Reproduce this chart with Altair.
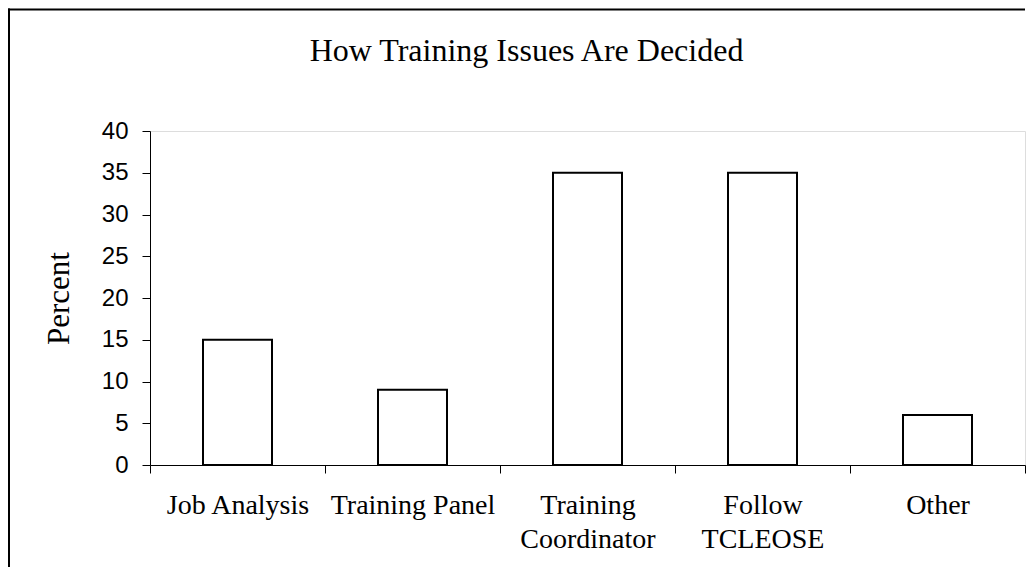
import altair as alt
import pandas as pd

categories = ["Job Analysis", "Training Panel", "Training Coordinator", "Follow TCLEOSE", "Other"]
percents = [15, 9, 35, 35, 6]
y_ticks = [0, 5, 10, 15, 20, 25, 30, 35, 40]
title_text = "How Training Issues Are Decided"
y_title = "Percent"

df = pd.DataFrame({"category": categories, "percent": percents})

SERIF = "Liberation Serif"
SANS = "Liberation Sans"

bars = alt.Chart(df).mark_bar(
    size=69, fill="white", stroke="black", strokeWidth=2
).encode(
    x=alt.X(
        "category:N",
        sort=categories,
        scale=alt.Scale(paddingInner=0, paddingOuter=0),
        axis=alt.Axis(
            title=None,
            labelAngle=0,
            labelFont=SERIF,
            labelFontSize=28,
            labelColor="black",
            labelPadding=18,
            labelLineHeight=34,
            labelExpr="datum.label == 'Training Coordinator' || datum.label == 'Follow TCLEOSE' ? split(datum.label, ' ') : datum.label",
            tickBand="extent",
            tickSize=8,
            tickColor="black",
            domainColor="black",
            grid=False,
        ),
    ),
    y=alt.Y(
        "percent:Q",
        scale=alt.Scale(domain=[0, 40], nice=False),
        axis=alt.Axis(
            title=y_title,
            titleFont=SERIF,
            titleFontSize=31,
            titleFontWeight="normal",
            titleColor="black",
            titleAngle=-90,
            titleX=-82,
            titleY=167,
            titleAlign="center",
            titleBaseline="alphabetic",
            values=y_ticks,
            labelFont=SANS,
            labelFontSize=24,
            labelColor="black",
            labelPadding=14,
            tickSize=8,
            tickColor="black",
            domainColor="black",
            grid=False,
        ),
    ),
)

frame_src = pd.DataFrame({"k": [0]})
frame_top = alt.Chart(frame_src).mark_rule(
    stroke="black", strokeWidth=2, clip=False
).encode(
    x=alt.value(-142),
    x2=alt.value(875),
    y=alt.value(-121.5),
)
frame_left = alt.Chart(frame_src).mark_rule(
    stroke="black", strokeWidth=2, clip=False
).encode(
    x=alt.value(-141),
    y=alt.value(-122.5),
    y2=alt.value(436),
)

title = alt.Chart(pd.DataFrame({"t": [title_text]})).mark_text(
    font=SERIF, fontSize=32, color="black", align="center", baseline="alphabetic"
).encode(
    text="t:N",
    x=alt.value(376.5),
    y=alt.value(-70),
)

chart = alt.layer(frame_top, frame_left, title, bars).properties(
    width=875,
    height=334,
    autosize=alt.AutoSizeParams(type="none"),
    padding={"left": 142, "top": 123, "right": 1, "bottom": 103},
).configure_view(stroke=None).configure(background="white")

chart.save("out.html", embed_options={"renderer": "svg", "actions": False})
